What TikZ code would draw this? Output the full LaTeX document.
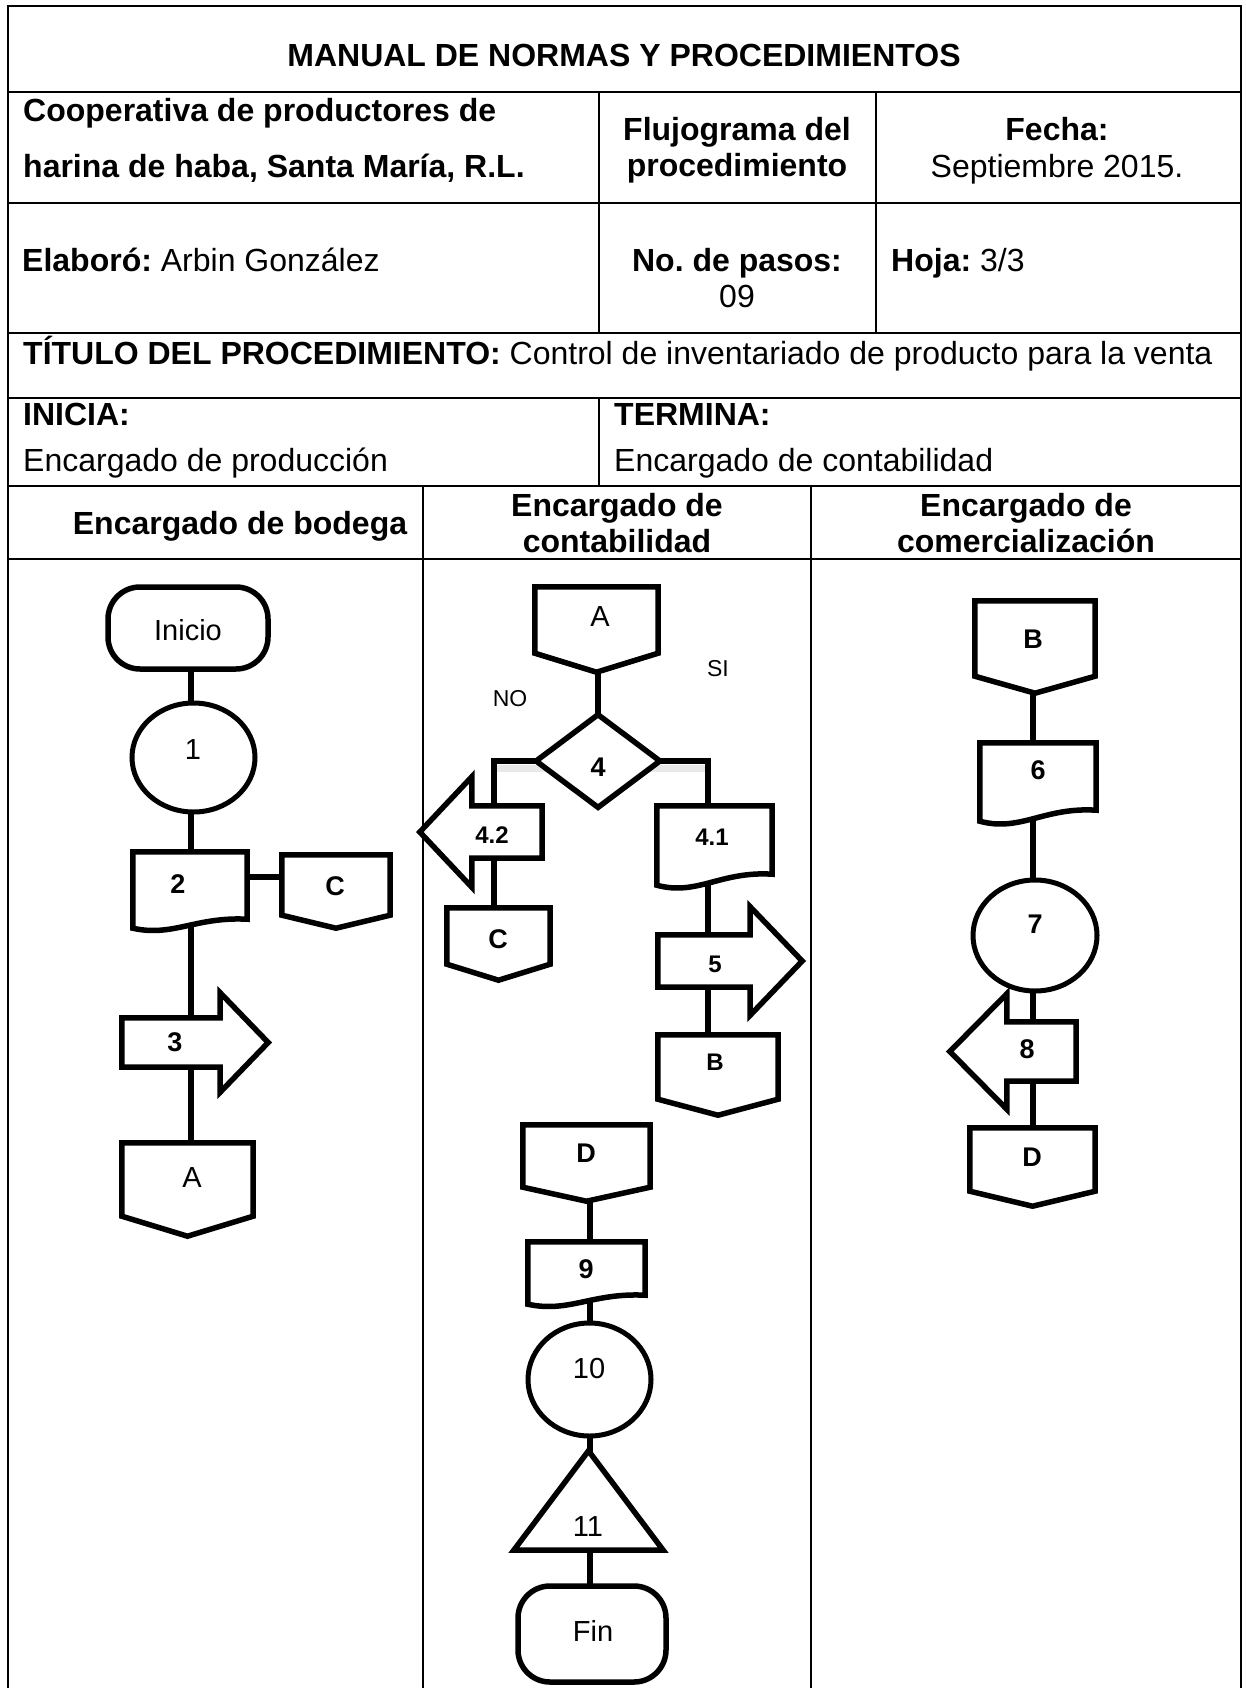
\documentclass[tikz,border=0pt]{standalone}
\usepackage{fontspec}
\setmainfont{Liberation Sans}
\usetikzlibrary{shapes.geometric,calc}
\pgfdeclarelayer{bg}
\pgfsetlayers{bg,main}
\frenchspacing

\begin{document}
\begin{tikzpicture}[x=1pt,y=-1pt,
  grid/.style={line width=2.5pt},
  conn/.style={line width=6pt},
  shp/.style={draw, line width=5.5pt, fill=white},
  box/.style 2 args={rectangle, draw=none, inner sep=0pt, minimum width=#1pt, minimum height=#2pt},
  term/.style 2 args={rectangle, rounded corners=32pt, draw, line width=5.5pt, fill=white, inner sep=0pt, minimum width=#1pt, minimum height=#2pt},
  oval/.style 2 args={ellipse, draw, line width=5pt, fill=white, inner sep=0pt, minimum width=#1pt, minimum height=#2pt},
  rhomb/.style 2 args={diamond, draw, line width=5.5pt, fill=white, inner sep=0pt, minimum width=#1pt, minimum height=#2pt},
  hd/.style={font=\fontsize{32}{38}\selectfont\bfseries, inner sep=0pt},
  tx/.style={font=\fontsize{32}{38}\selectfont, inner sep=0pt},
  lbl/.style={font=\fontsize{29}{34}\selectfont, inner sep=0pt},
  lblb/.style={font=\fontsize{27}{32}\selectfont\bfseries, inner sep=0pt},
  lbls/.style={font=\fontsize{24}{28}\selectfont\bfseries, inner sep=0pt},
  yn/.style={font=\fontsize{23}{27}\selectfont, inner sep=0pt}
]
\useasboundingbox (0,0) rectangle (1246,1688);

% ---------- header table ----------
\begin{pgfonlayer}{bg}
  \fill[white] (0,0) rectangle (1246,1688);
  \draw[grid] (8,1688) -- (8,6) -- (1241,6) -- (1241,1688);
  \foreach \yy in {92,203,333,398,486,559}
    \draw[grid] (8,\yy) -- (1241,\yy);
  \draw[grid] (599,92) -- (599,333);
  \draw[grid] (876,92) -- (876,333);
  \draw[grid] (599,398) -- (599,486);
  \draw[grid] (423,486) -- (423,1688);
  \draw[grid] (811,486) -- (811,1688);
\end{pgfonlayer}

\node[hd, anchor=base] (ttl) at (624,67) {MANUAL DE NORMAS Y PROCEDIMIENTOS};
\node[hd, anchor=base west] (coop1) at (23,122) {Cooperativa de productores de};
\node[hd, anchor=base west] (coop2) at (23,178) {harina de haba, Santa María, R.L.};
\node[hd, anchor=base] (flu1) at (737,141) {Flujograma del};
\node[hd, anchor=base] (flu2) at (737,177) {procedimiento};
\node[hd, anchor=base] (fec1) at (1057,141) {Fecha:};
\node[tx, anchor=base] (fec2) at (1057,178) {Septiembre 2015.};
\node[tx, anchor=base west] (elab) at (22,271) {\textbf{Elaboró:} Arbin González};
\node[hd, anchor=base] (pas1) at (737,272) {No. de pasos:};
\node[tx, anchor=base] (pas2) at (737,307) {09};
\node[tx, anchor=base west] (hoja) at (891,271) {\textbf{Hoja:} 3/3};
\node[tx, anchor=base west] (tit) at (23,364) {\textbf{TÍTULO DEL PROCEDIMIENTO:} Control de inventariado de producto para la venta};
\node[hd, anchor=base west] (ini1) at (23,425) {INICIA:};
\node[tx, anchor=base west] (ini2) at (23,471) {Encargado de producción};
\node[hd, anchor=base west] (ter1) at (614,425) {TERMINA:};
\node[tx, anchor=base west] (ter2) at (614,471) {Encargado de contabilidad};
\node[hd, anchor=base] (ln1) at (240,534) {Encargado de bodega};
\node[hd, anchor=base] (ln2a) at (617,516) {Encargado de};
\node[hd, anchor=base] (ln2b) at (617,552) {contabilidad};
\node[hd, anchor=base] (ln3a) at (1026,516) {Encargado de};
\node[hd, anchor=base] (ln3b) at (1026,552) {comercialización};

% ---------- flowchart shapes ----------
% lane 1: bodega
\node[term={160}{82}] (ini) at (188,628) {};
\node[oval={123}{109}] (c1) at (193.5,757.5) {};
\node[box={114}{76}] (d2) at (190,890) {};
\node[box={108}{73}] (C1) at (336,891.5) {};
\node[box={98}{49}] (a3) at (171,1042.5) {};
\node[box={131}{93}] (A1) at (187.5,1189.5) {};
% lane 2: contabilidad
\node[box={123}{85}] (A2) at (596.5,629.5) {};
\node[rhomb={126}{95}] (d4) at (598,761) {};
\node[box={70}{52}] (a42) at (507,832) {};
\node[box={103}{72}] (C2) at (498.5,944) {};
\node[box={115}{79}] (d41) at (714.5,845.5) {};
\node[box={92}{52}] (a5) at (704,961) {};
\node[box={120}{80}] (B2) at (718,1075) {};
\node[box={127}{76}] (D2) at (586.5,1163) {};
\node[box={117}{62}] (d9) at (586.5,1273) {};
\node[oval={123}{113}] (c10) at (589.5,1379.5) {};
\node[box={149}{99}] (t11) at (588.5,1500.5) {};
\node[term={148}{96}] (fin) at (592,1634) {};
% lane 3: comercializacion
\node[box={120}{92}] (B3) at (1035,647) {};
\node[box={116}{78}] (d6) at (1038,782) {};
\node[oval={124}{111}] (c7) at (1035,935.5) {};
\node[box={69}{59}] (a8) at (1041.5,1051.5) {};
\node[box={125}{78}] (D3) at (1032.5,1167) {};

% connector columns
\coordinate (k1) at (191,0);
\coordinate (k2) at (598,0);
\coordinate (k2l) at (494,0);
\coordinate (k2r) at (708,0);
\coordinate (k2d) at (590,0);
\coordinate (k3) at (1033,0);

% connectors, behind the shapes
\begin{pgfonlayer}{bg}
  \draw[conn] (ini -| k1) -- (c1 -| k1);
  \draw[conn] (c1 -| k1) -- (d2 -| k1);
  \draw[conn] (d2 -| k1) -- (a3 -| k1);
  \draw[conn] (a3 -| k1) -- (A1 -| k1);
  \draw[conn] ($(d2.center)+(0,-13)$) -- ($(C1.center)+(0,-14.5)$);
  \draw[conn] (A2 -| k2) -- (d4 -| k2);
  \draw[conn] (d4.center) -| (a42 -| k2l);
  \draw[conn] (a42 -| k2l) -- (C2 -| k2l);
  \draw[conn] (d4.center) -| (d41 -| k2r);
  \draw[conn] (d41 -| k2r) -- (a5 -| k2r);
  \draw[conn] (a5 -| k2r) -- (B2 -| k2r);
  \draw[conn] (D2 -| k2d) -- (d9 -| k2d);
  \draw[conn] (d9 -| k2d) -- (c10 -| k2d);
  \draw[conn] (c10 -| k2d) -- (t11 -| k2d);
  \draw[conn] (t11 -| k2d) -- (fin -| k2d);
  \draw[conn] (B3 -| k3) -- (d6 -| k3);
  \draw[conn] (d6 -| k3) -- (c7 -| k3);
  \draw[conn] (c7 -| k3) -- (a8 -| k3);
  \draw[conn] (a8 -| k3) -- (D3 -| k3);
  % light grey speckle under the decision branches
  \fill[black!9] (497,765) rectangle (560,772);
  \fill[black!9] (636,765) rectangle (705,772);
\end{pgfonlayer}

% off-page connectors
\foreach \n/\dep in {C1/13,A1/20,A2/19,C2/16,B2/16,D2/14,B3/17,D3/15}
  \draw[shp] (\n.north west) -- (\n.north east) -- ($(\n.south east)+(0,-\dep)$)
    -- (\n.south) -- ($(\n.south west)+(0,-\dep)$) -- cycle;
% documents
\foreach \n/\off in {d2/9,d41/11,d6/11,d9/9}
  \draw[shp] (\n.north west) -- (\n.north east) -- ($(\n.south east)+(0,-\off)$)
    .. controls ($(\n.south west)!0.55!(\n.south east)+(0,-1.3*\off)$)
    and ($(\n.south west)!0.35!(\n.south east)+(0,\off)$) .. (\n.south west) -- cycle;
% block arrows pointing right
\foreach \n/\ex/\hl in {a3/25/48,a5/28/52}
  \draw[shp] (\n.north west) -- (\n.north east) -- ($(\n.north east)+(0,-\ex)$)
    -- ($(\n.east)+(\hl,0)$) -- ($(\n.south east)+(0,\ex)$) -- (\n.south east)
    -- (\n.south west) -- cycle;
% block arrows pointing left
\foreach \n/\ex/\hl in {a42/29/52,a8/28/57}
  \draw[shp] (\n.north east) -- (\n.north west) -- ($(\n.north west)+(0,-\ex)$)
    -- ($(\n.west)+(-\hl,0)$) -- ($(\n.south west)+(0,\ex)$) -- (\n.south west)
    -- (\n.south east) -- cycle;
% storage triangle
\draw[shp] (t11.north) -- (t11.south east) -- (t11.south west) -- cycle;

% ---------- labels ----------
\node[lbl] (tini) at (188,630) {Inicio};
\node[lbl] (t1) at (193,750) {1};
\node[lblb] (t2) at (178,884) {2};
\node[lblb] (tC1) at (335,886) {C};
\node[lblb] (t3) at (175,1042) {3};
\node[lbl] (tA1) at (192,1178) {A};
\node[lbl] (tA2) at (600,617) {A};
\node[lblb] (t4) at (598,767) {4};
\node[yn] (tno) at (510,699) {NO};
\node[yn] (tsi) at (718,669) {SI};
\node[lbls] (t42) at (492,835) {4.2};
\node[lblb] (tC2) at (498,939) {C};
\node[lbls] (t41) at (712,837) {4.1};
\node[lbls] (t5) at (715,964) {5};
\node[lbls] (tB2) at (715,1062) {B};
\node[lblb] (tD2) at (586,1153) {D};
\node[lblb] (t9) at (586,1269) {9};
\node[lbl] (t10) at (589,1369) {10};
\node[lbl] (t11l) at (588,1527) {11};
\node[lbl] (tfin) at (593,1631) {Fin};
\node[lblb] (tB3) at (1033,639) {B};
\node[lblb] (t6) at (1038,770) {6};
\node[lblb] (t7) at (1035,924) {7};
\node[lblb] (t8) at (1027,1049) {8};
\node[lblb] (tD3) at (1032,1157) {D};
\end{tikzpicture}
\end{document}
